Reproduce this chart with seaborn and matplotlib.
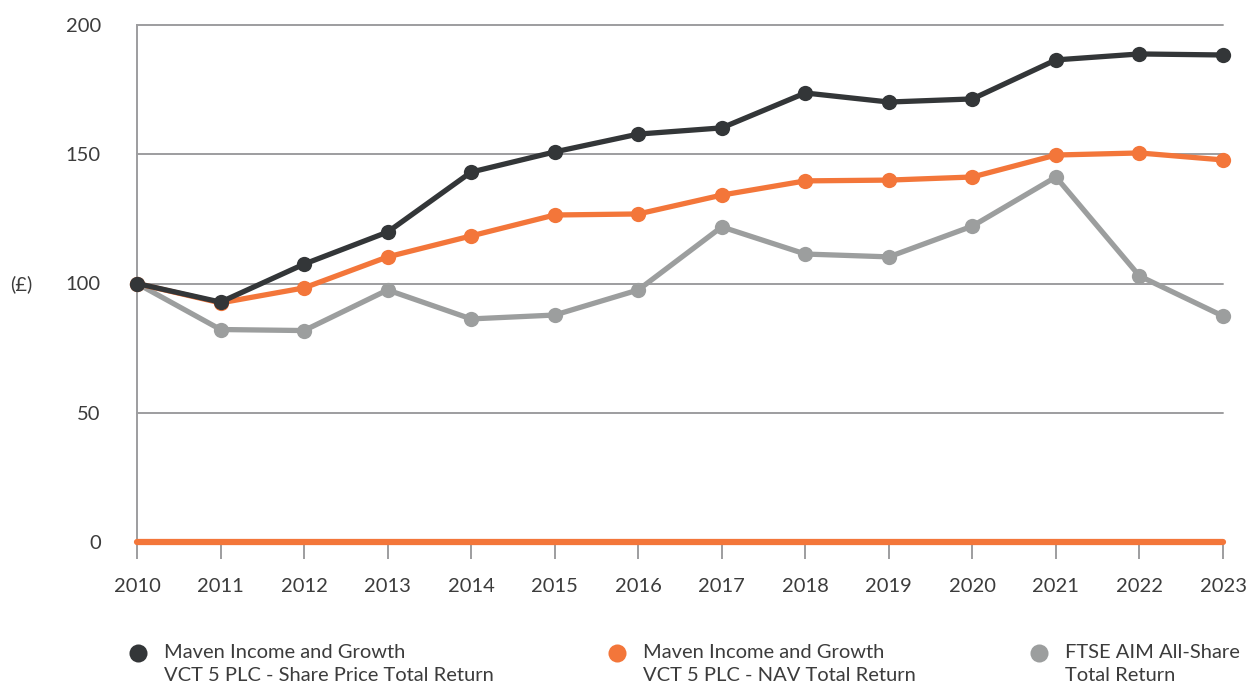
import matplotlib
matplotlib.use("Agg")
import matplotlib.pyplot as plt
from matplotlib.legend_handler import HandlerLine2D
import seaborn as sns
import pandas as pd

years = [2010, 2011, 2012, 2013, 2014, 2015, 2016, 2017, 2018, 2019, 2020, 2021, 2022, 2023]
share_price = [100, 92.8, 107.5, 119.9, 143.1, 150.9, 157.8, 160.2, 173.7, 170.2, 171.4, 186.5, 188.8, 188.4]
nav_return = [100, 92.5, 98.3, 110.3, 118.4, 126.5, 126.9, 134.2, 139.7, 140.0, 141.2, 149.7, 150.5, 147.8]
ftse_aim = [100, 82.2, 81.8, 97.5, 86.3, 87.8, 97.5, 121.9, 111.4, 110.3, 122.2, 141.2, 102.9, 87.4]
series_names = [
    "Maven Income and Growth\nVCT 5 PLC - Share Price Total Return",
    "Maven Income and Growth\nVCT 5 PLC - NAV Total Return",
    "FTSE AIM All-Share\nTotal Return",
]
y_ticks = [0, 50, 100, 150, 200]

colors = ["#333638", "#F3763A", "#9C9E9E"]
grid_col = "#9D9D9F"
text_col = "#3C3C3C"

sns.set_theme(style="white")
plt.rcParams["font.family"] = ["Lato", "DejaVu Sans"]

df = pd.DataFrame({
    "year": years * 3,
    "value": share_price + nav_return + ftse_aim,
    "series": [series_names[0]] * len(years) + [series_names[1]] * len(years) + [series_names[2]] * len(years),
})

fig = plt.figure(figsize=(12.54, 6.83), dpi=100)
ax = fig.add_axes([137 / 1254, 1 - 542 / 683, (1223 - 137) / 1254, (542 - 25) / 683])

for y in y_ticks[1:]:
    ax.axhline(y, color=grid_col, lw=1.4, zorder=1, clip_on=False)

sns.lineplot(data=df, x="year", y="value", hue="series", hue_order=series_names[::-1],
             palette=dict(zip(series_names, colors)), marker="o", markersize=11,
             markeredgewidth=0, linewidth=3.8, ax=ax, legend=False, zorder=3)

for line in ax.lines:
    line.set_clip_on(False)

ax.axhline(0, color=colors[1], lw=4.5, zorder=4, clip_on=False)

ax.set_xlim(years[0], years[-1])
ax.set_ylim(0, 200)
ax.set_xticks(years)
ax.set_xticklabels([str(y) for y in years])
ax.set_yticks(y_ticks)
ax.set_yticklabels([str(v) for v in y_ticks])
ax.set_xlabel("")
ax.set_ylabel("")

for s in ["top", "right", "bottom"]:
    ax.spines[s].set_visible(False)
ax.spines["left"].set_color(grid_col)
ax.spines["left"].set_linewidth(1.4)
ax.spines["left"].set_bounds(0, 200)

ax.tick_params(axis="x", which="major", length=12, width=1.4, color=grid_col,
               labelsize=14.5, labelcolor=text_col, pad=14, direction="out", bottom=True)
ax.tick_params(axis="y", length=0, labelsize=14.5, labelcolor=text_col, pad=26)

fig.text(10 / 1254, 1 - 284 / 683, "(£)", fontsize=14.5, color=text_col, ha="left", va="center")


class UpHandler(HandlerLine2D):
    def create_artists(self, legend, orig_handle, xdescent, ydescent, width, height, fontsize, trans):
        arts = super().create_artists(legend, orig_handle, xdescent, ydescent, width, height, fontsize, trans)
        for a in arts:
            a.set_ydata([v + 8 for v in a.get_ydata()])
        return arts


handles = [plt.Line2D([], [], marker="o", ls="", color=c, markersize=13, markeredgewidth=0) for c in colors]
leg = fig.legend(handles, series_names, loc="upper left", bbox_to_anchor=(128 / 1254, 1 - 644 / 683),
                 ncol=3, frameon=False, fontsize=14.5, handletextpad=0.8, columnspacing=5.6,
                 labelcolor=text_col, handlelength=1.0, borderaxespad=0, borderpad=0,
                 handler_map={plt.Line2D: UpHandler()})
for t in leg.get_texts():
    t.set_linespacing(1.45)

fig.savefig("out.png", dpi=100)
